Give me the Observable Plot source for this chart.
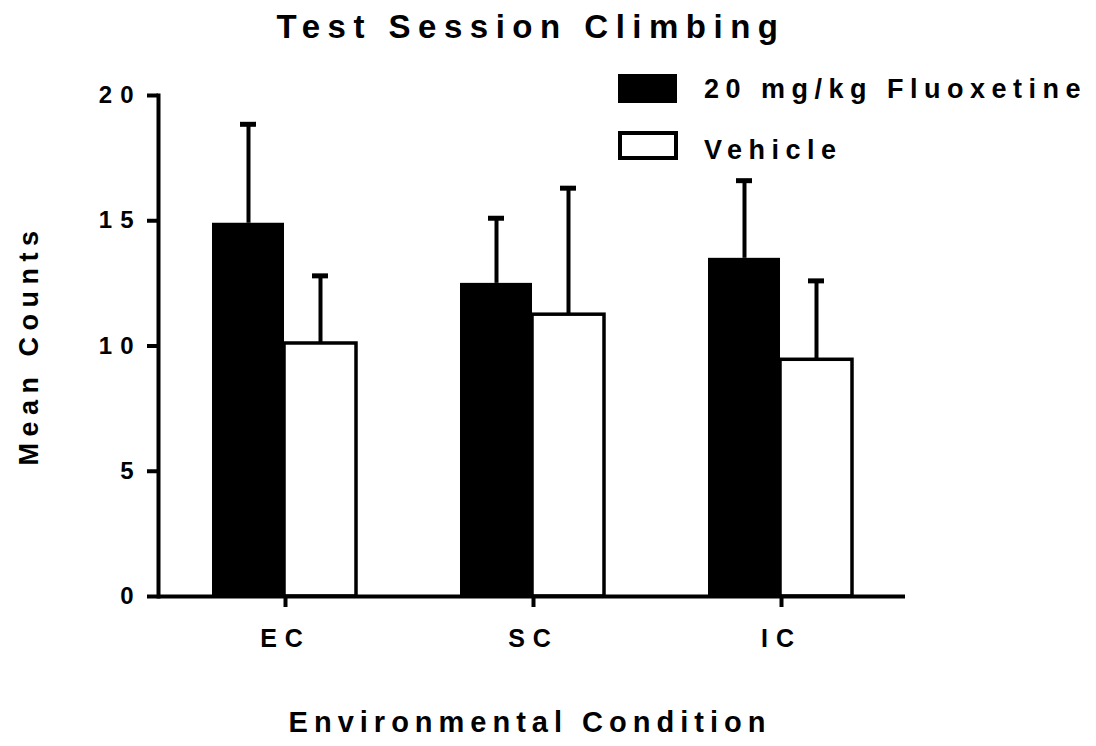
<!DOCTYPE html>
<html><head><meta charset="utf-8">
<script src="https://cdn.jsdelivr.net/npm/d3@7"></script>
<script src="https://cdn.jsdelivr.net/npm/@observablehq/plot@0.6"></script>
<style>
body{margin:0;background:#fff;}
#wrap{position:relative;width:1096px;height:746px;font-family:"Liberation Sans",Arial,Helvetica,sans-serif;font-weight:bold;color:#000;overflow:hidden;}
#wrap svg{position:absolute;left:0;top:0;}
#wrap svg g[aria-label="y-axis tick label"] text{letter-spacing:8px;}
#wrap svg g[aria-label="x-axis tick label"] text{letter-spacing:8px;}
.t{position:absolute;white-space:nowrap;line-height:1;}
.sw{position:absolute;box-sizing:border-box;}
</style></head><body><div id="wrap"></div>
<script>
const conditions = ["EC", "SC", "IC"];
const fluoxMean = [14.9, 12.5, 13.5];
const fluoxSEM = [3.95, 2.6, 3.1];
const vehicleMean = [10.1, 11.25, 9.45];
const vehicleSEM = [2.7, 5.05, 3.15];
const yTicks = [0, 5, 10, 15, 20];
const seriesNames = ["20 mg/kg Fluoxetine", "Vehicle"];
const titleText = "Test Session Climbing";
const xLabel = "Environmental Condition";
const yLabel = "Mean Counts";

const fl = conditions.map((c, i) => ({cond: c, mean: fluoxMean[i], hi: fluoxMean[i] + fluoxSEM[i]}));
const ve = conditions.map((c, i) => ({cond: c, mean: vehicleMean[i], hi: vehicleMean[i] + vehicleSEM[i]}));

const plot = Plot.plot({
  width: 1096, height: 746,
  marginLeft: 158, marginRight: 191, marginTop: 95, marginBottom: 150,
  style: {fontFamily: '"Liberation Sans", Arial, sans-serif', fontWeight: "bold", background: "transparent", overflow: "visible", color: "#000"},
  x: {domain: conditions, paddingInner: 0.71, paddingOuter: 0.361, align: 0.508},
  y: {domain: [0, 20]},
  marks: [
    Plot.ruleX(fl, {x: "cond", y1: "mean", y2: "hi", dx: -37, stroke: "#000", strokeWidth: 4}),
    Plot.tickY(fl, {x: "cond", y: "hi", dx: -37, insetLeft: 28, insetRight: 28, stroke: "#000", strokeWidth: 5}),
    Plot.ruleX(ve, {x: "cond", y1: "mean", y2: "hi", dx: 35, stroke: "#000", strokeWidth: 4}),
    Plot.tickY(ve, {x: "cond", y: "hi", dx: 35, insetLeft: 28, insetRight: 28, stroke: "#000", strokeWidth: 5}),
    Plot.barY(fl, {x: "cond", y: "mean", dx: -37, fill: "#000"}),
    Plot.barY(ve, {x: "cond", y: "mean", dx: 35, fill: "#fff", stroke: "#000", strokeWidth: 3.5}),
    Plot.ruleY([0], {stroke: "#000", strokeWidth: 4}),
    Plot.frame({anchor: "left", stroke: "#000", strokeWidth: 4}),
    Plot.axisY({ticks: yTicks, tickSize: 11, tickPadding: 6, strokeWidth: 4, fontSize: 24, label: null}),
    Plot.axisX({tickSize: 11, tickPadding: 22, strokeWidth: 4, fontSize: 25, label: null})
  ]
});

const wrap = document.getElementById("wrap");
wrap.appendChild(plot);

function addText(txt, css) {
  const d = document.createElement("div");
  d.className = "t";
  d.textContent = txt;
  Object.assign(d.style, css);
  wrap.appendChild(d);
  return d;
}
function addSwatch(css) {
  const d = document.createElement("div");
  d.className = "sw";
  Object.assign(d.style, css);
  wrap.appendChild(d);
}

addText(titleText, {left: "531px", top: "10px", fontSize: "33px", letterSpacing: "7.5px", transform: "translateX(-50%)"});
addText(xLabel, {left: "530px", top: "708px", fontSize: "29px", letterSpacing: "6px", transform: "translateX(-50%)"});
addText(yLabel, {left: "29px", top: "345px", fontSize: "27px", letterSpacing: "6.5px", transform: "translate(-50%,-50%) rotate(-90deg)"});

addSwatch({left: "618px", top: "74px", width: "59px", height: "29px", background: "#000"});
addSwatch({left: "618px", top: "131px", width: "60px", height: "29px", background: "#fff", border: "4px solid #000"});
addText(seriesNames[0], {left: "704px", top: "76px", fontSize: "27px", letterSpacing: "6.5px"});
addText(seriesNames[1], {left: "704px", top: "137px", fontSize: "27px", letterSpacing: "6.5px"});
</script>
</body></html>
